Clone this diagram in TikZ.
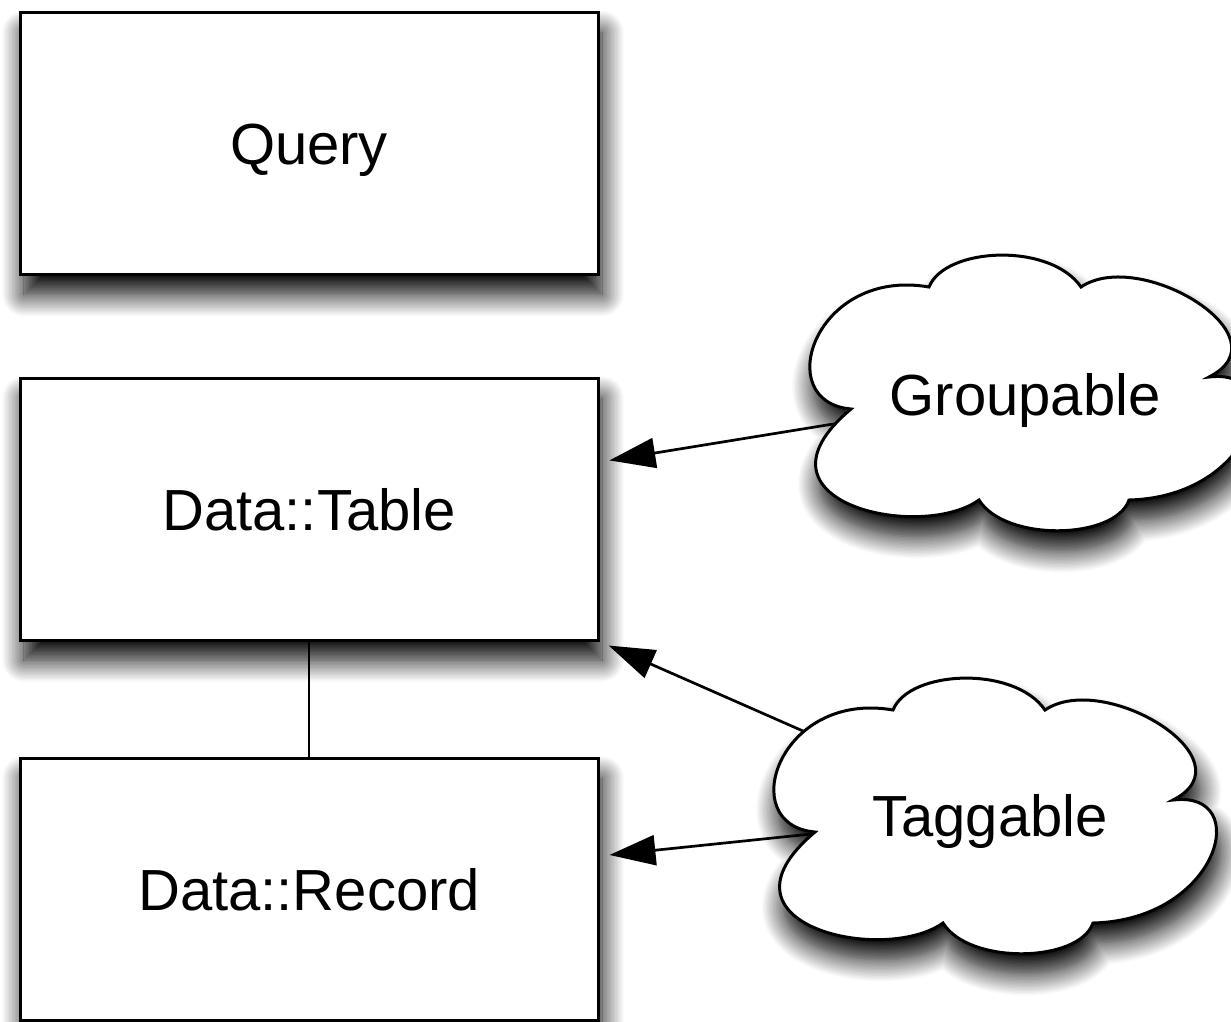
\documentclass[tikz,border=0pt]{standalone}
\usepackage{fontspec}
\setmainfont{Liberation Sans}
\usetikzlibrary{arrows.meta,shadows.blur,calc}
\begin{document}
\begin{tikzpicture}[x=1pt,y=-1pt,
  lbl/.style={font=\fontsize{58}{60}\selectfont, text height=42pt, text depth=0pt, inner sep=0pt},
  shad/.style={blur shadow={shadow xshift=4pt, shadow yshift=-20pt, shadow blur radius=22pt, shadow blur steps=16, shadow opacity=100}},
  box/.style={lbl, shad, draw, line width=3pt, fill=white, minimum width=578pt, minimum height=262pt},
  puffline/.style={shad, draw, line width=3pt, fill=white, line join=miter},
  link/.style={line width=2.5pt},
  arr/.style={line width=2.7pt, shorten >=10pt, -{Triangle[length=46pt,width=30pt]}},
  cloudpic/.pic={
    \path[puffline] (-179,17)
      .. controls (-260,10) and (-215,-125) .. (-101,-105)
      .. controls (-85,-145) and (20,-150) .. (51,-105)
      .. controls (110,-145) and (258,-55) .. (179,-15)
      .. controls (260,-25) and (225,105) .. (99,108)
      .. controls (85,148) and (-25,150) .. (-51,108)
      .. controls (-110,150) and (-290,110) .. (-179,17) -- cycle;
  }]
\useasboundingbox (0,0) rectangle (1231,1021);
\node[box] (query)  at (309,143.5) {Query};
\node[box] (table)  at (309,509)   {Data::Table};
\node[box] (record) at (309,889)   {Data::Record};
\draw[link] (table.south) -- (record.north);
\coordinate (gc) at (1030,392);
\coordinate (tc) at (994,815);
\draw[arr] (gc) -- ($(table.east)+(0,-47)$);
\draw[arr] (tc) -- (table.south east);
\draw[arr] (tc) -- ($(record.east)+(0,-33)$);
\pic at (gc) {cloudpic};
\pic at (tc) {cloudpic};
\node[lbl] (grp) at ($(gc)+(-5,2)$) {Groupable};
\node[lbl] (tag) at ($(tc)+(-4,0)$) {Taggable};
\end{tikzpicture}
\end{document}
